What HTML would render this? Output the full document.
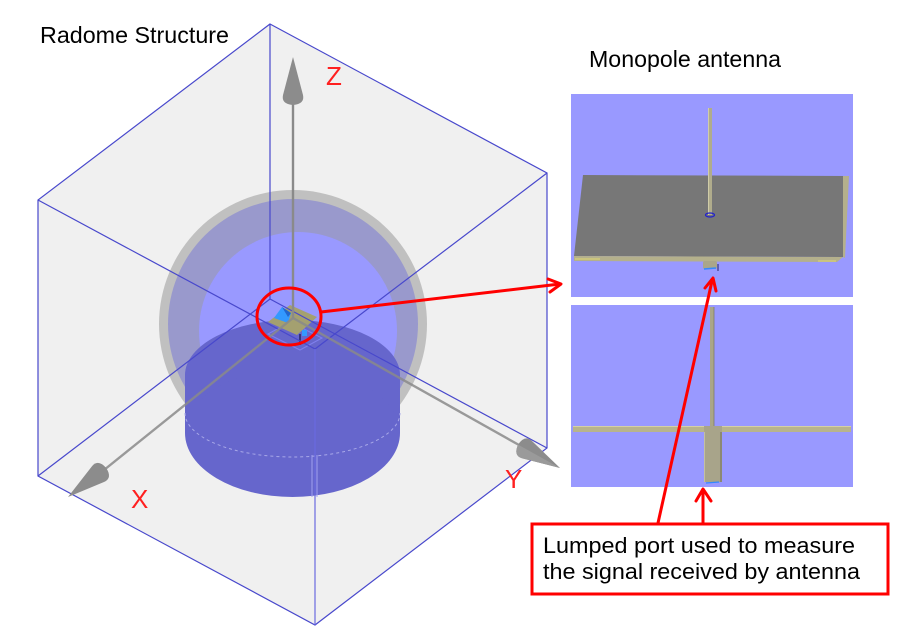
<!DOCTYPE html>
<html>
<head>
<meta charset="utf-8">
<style>
  html,body{margin:0;padding:0;background:#fff;}
  svg{display:block;}
  text{font-family:"Liberation Sans", Arial, sans-serif;}
</style>
</head>
<body>
<svg width="904" height="633" viewBox="0 0 904 633" xmlns="http://www.w3.org/2000/svg">
  <rect x="0" y="0" width="904" height="633" fill="#ffffff"/>

  <!-- Box fill -->
  <polygon points="270,24 547,173 547,448 315,625 38,476 38,200" fill="#f0f0f0"/>

  <!-- Radome sphere -->
  <circle cx="293" cy="324" r="134" fill="#c0c0c0"/>
  <circle cx="293" cy="324" r="125" fill="#9999cc"/>
  <circle cx="298" cy="331" r="99" fill="#9999ff"/>

  <!-- Cylinder -->
  <g fill="#6666cc">
    <ellipse cx="292.5" cy="375" rx="107.5" ry="55"/>
    <rect x="185" y="375" width="215" height="58"/>
    <ellipse cx="292.5" cy="433" rx="107.5" ry="64"/>
  </g>
  <path d="M185,413 A107.5,44 0 0 0 400,413" fill="none" stroke="#a8a8e8" stroke-width="1" stroke-dasharray="3,3"/>

  <!-- Port / feed inside circle -->
  <g>
    <polygon points="268,334 300,350 322,338 290,322" fill="none" stroke="#8080ee" stroke-width="1"/>
    <polygon points="290,305 317,317 297,335 268,322" fill="#a4a070"/>
    <polygon points="274,318 282,307 291,313 288,323" fill="#3399ff"/>
    <polygon points="282,307 291,313 288,317" fill="#2266cc"/>
    <rect x="302" y="330" width="5" height="6" fill="#3399ff"/>
    <line x1="300" y1="334" x2="300" y2="345" stroke="#222266" stroke-width="1.5"/>
  </g>

  <!-- Box edges -->
  <g stroke="#4848cc" stroke-width="1.2" fill="none">
    <polygon points="270,24 547,173 547,448 315,625 38,476 38,200"/>
    <line x1="38" y1="200" x2="315" y2="349"/>
    <line x1="547" y1="173" x2="315" y2="349"/>
    <line x1="270" y1="24" x2="270" y2="299"/>
    <line x1="38" y1="476" x2="270" y2="299"/>
    <line x1="547" y1="448" x2="270" y2="299"/>
    <line x1="315" y1="349" x2="315" y2="625" stroke="#6a6ae0"/>
  </g>
  <line x1="312" y1="455" x2="312" y2="497" stroke="#a0a0f0" stroke-width="1"/>
  <line x1="317" y1="455" x2="317" y2="497" stroke="#a0a0f0" stroke-width="1"/>

  <!-- Axes -->
  <g stroke="#8a8a8a" stroke-width="2.4" fill="none">
    <line x1="293" y1="318" x2="293" y2="100"/>
    <line x1="293" y1="318" x2="104" y2="470" opacity="0.85"/>
    <line x1="293" y1="318" x2="519" y2="445" opacity="0.85"/>
  </g>
  <g fill="#8c8c8c">
    <g transform="translate(293,57) rotate(90)">
      <path d="M0,0 L38,-10 Q47,-12 48,0 Q47,12 38,10 Z"/>
    </g>
    <g transform="translate(68,497) rotate(-37.3)">
      <path d="M0,0 L38,-10 Q47,-12 48,0 Q47,12 38,10 Z"/>
    </g>
    <g transform="translate(560,468) rotate(209.2)">
      <path d="M0,0 L38,-10 Q47,-12 48,0 Q47,12 38,10 Z"/>
      <path d="M0,0 L38,-10 Q47,-12 48,0 Z" fill="#9a9a9a"/>
    </g>
  </g>

  <!-- Axis labels -->
  <g fill="#ff2020" font-size="26">
    <text x="326" y="85">Z</text>
    <text x="131" y="508">X</text>
    <text x="505" y="488">Y</text>
  </g>

  <!-- Titles -->
  <text x="40" y="43" font-size="23" fill="#000" textLength="189" lengthAdjust="spacingAndGlyphs">Radome Structure</text>
  <text x="589" y="67" font-size="23" fill="#000" textLength="192" lengthAdjust="spacingAndGlyphs">Monopole antenna</text>

  <!-- Top antenna panel -->
  <rect x="571" y="94" width="282" height="203" fill="#9999ff"/>
  <polygon points="583,175 847,176 843,257 574,256" fill="#777777"/>
  <polygon points="843,176 849,176 845,258 843,257" fill="#b4b08c"/>
  <polygon points="574,256 843,257 837,262 574,261" fill="#b4b08c"/>
  <line x1="575" y1="259" x2="600" y2="259" stroke="#e0d870" stroke-width="1"/>
  <line x1="818" y1="261" x2="836" y2="261" stroke="#e0d870" stroke-width="1"/>
  <rect x="708.5" y="108" width="3.5" height="107" fill="#b0ac8c"/>
  <line x1="708.5" y1="108" x2="708.5" y2="215" stroke="#d0cca8" stroke-width="1"/>
  <ellipse cx="710" cy="215" rx="4.5" ry="2" fill="none" stroke="#2222cc" stroke-width="1.2"/>
  <rect x="703" y="261" width="14" height="8" rx="2" fill="#aaa68a"/>
  <line x1="704" y1="269" x2="716" y2="268" stroke="#3388ff" stroke-width="1.5"/>
  <line x1="718" y1="264" x2="718" y2="271" stroke="#222266" stroke-width="1"/>

  <!-- Bottom antenna panel -->
  <rect x="571" y="305" width="282" height="182" fill="#9999ff"/>
  <rect x="710" y="307" width="4" height="119" fill="#aaa688"/>
  <line x1="714" y1="307" x2="714" y2="426" stroke="#7f7c66" stroke-width="0.8"/>
  <rect x="573" y="426" width="278" height="6" fill="#b8b48c"/>
  <line x1="573" y1="426.5" x2="851" y2="426.5" stroke="#d4d0a4" stroke-width="1"/>
  <rect x="704" y="426" width="18" height="56" fill="#a8a48a"/>
  <line x1="721" y1="432" x2="721" y2="482" stroke="#7a7864" stroke-width="1.2"/>
  <line x1="704.5" y1="432" x2="704.5" y2="482" stroke="#c4c0a0" stroke-width="1"/>
  <line x1="706" y1="483" x2="719" y2="482" stroke="#3388ff" stroke-width="1.2"/>

  <!-- Red annotations -->
  <g stroke="#ff0000" stroke-width="3" fill="none" stroke-linecap="round" stroke-linejoin="round">
    <ellipse cx="289" cy="316.5" rx="32" ry="28.5"/>
    <line x1="321" y1="312" x2="560" y2="284"/>
    <polyline points="548,279 561,284 550,292"/>
    <line x1="658" y1="523" x2="712" y2="281"/>
    <polyline points="705,288 713,278 716,291"/>
    <line x1="703" y1="523" x2="703" y2="490"/>
    <polyline points="696,501 703,489 711,501"/>
  </g>
  <rect x="532" y="524" width="356" height="70" fill="#ffffff" stroke="#ff0000" stroke-width="3"/>
  <text x="543" y="553" font-size="22" fill="#000" textLength="312" lengthAdjust="spacingAndGlyphs">Lumped port used to measure</text>
  <text x="543" y="579" font-size="22" fill="#000" textLength="317" lengthAdjust="spacingAndGlyphs">the signal received by antenna</text>
</svg>
</body>
</html>
